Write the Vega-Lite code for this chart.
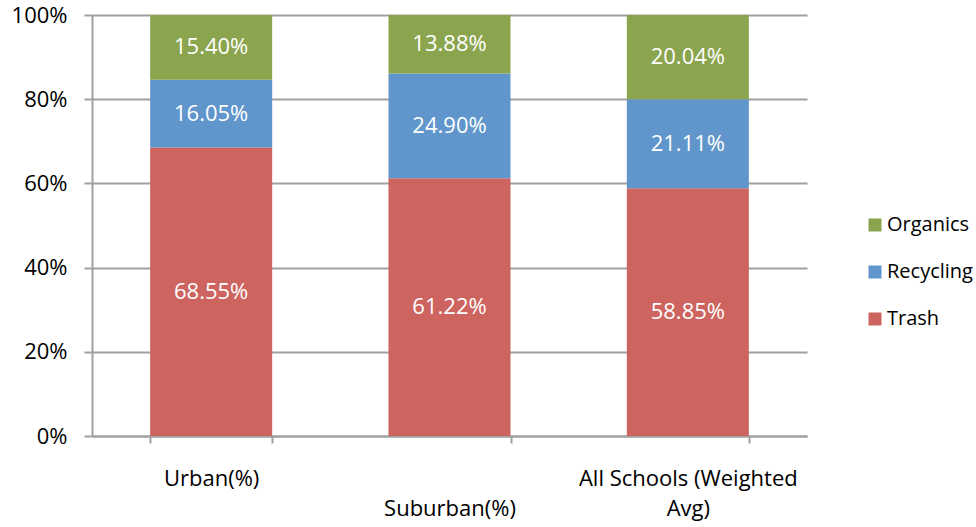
{
  "$schema": "https://vega.github.io/schema/vega-lite/v6.json",
  "width": 715,
  "height": 421,
  "autosize": {"type": "none"},
  "padding": {"left": 92, "top": 15, "right": 169, "bottom": 91},
  "background": "white",
  "config": {
    "view": {"stroke": null},
    "font": "Open Sans"
  },
  "data": {
    "values": [
      {"category": "Urban(%)", "type": "Trash", "rank": 1, "value": 0.6855},
      {"category": "Urban(%)", "type": "Recycling", "rank": 2, "value": 0.1605},
      {"category": "Urban(%)", "type": "Organics", "rank": 3, "value": 0.1540},
      {"category": "Suburban(%)", "type": "Trash", "rank": 1, "value": 0.6122},
      {"category": "Suburban(%)", "type": "Recycling", "rank": 2, "value": 0.2490},
      {"category": "Suburban(%)", "type": "Organics", "rank": 3, "value": 0.1388},
      {"category": "All Schools (Weighted Avg)", "type": "Trash", "rank": 1, "value": 0.5885},
      {"category": "All Schools (Weighted Avg)", "type": "Recycling", "rank": 2, "value": 0.2111},
      {"category": "All Schools (Weighted Avg)", "type": "Organics", "rank": 3, "value": 0.2004}
    ]
  },
  "transform": [
    {"stack": "value", "groupby": ["category"], "sort": [{"field": "rank", "order": "ascending"}], "as": ["y0", "y1"]},
    {"calculate": "(datum.y0 + datum.y1) / 2", "as": "mid"}
  ],
  "encoding": {
    "x": {
      "field": "category",
      "type": "nominal",
      "sort": null,
      "title": null,
      "scale": {"paddingInner": 0.488, "paddingOuter": 0.244},
      "axis": {
        "tickBand": "extent",
        "domainColor": "#A0A0A0",
        "domainWidth": 2,
        "tickColor": "#A0A0A0",
        "tickWidth": 2,
        "tickSize": 7,
        "labelAngle": 0,
        "labelFontSize": 22,
        "labelColor": "#000000",
        "labelPadding": 25,
        "labelLineHeight": 30,
        "labelBaseline": "top",
        "labelLimit": 400,
        "labelOverlap": false,
        "labelExpr": "datum.value == 'Suburban(%)' ? [' ', 'Suburban(%)'] : datum.value == 'All Schools (Weighted Avg)' ? ['All Schools (Weighted', 'Avg)'] : datum.value"
      }
    }
  },
  "layer": [
    {
      "mark": {"type": "bar"},
      "encoding": {
        "y": {
          "field": "y0",
          "type": "quantitative",
          "scale": {"domain": [0, 1], "nice": false},
          "title": null,
          "axis": {
            "values": [0, 0.2, 0.4, 0.6, 0.8, 1],
            "format": "%",
            "grid": true,
            "gridColor": "#A0A0A0",
            "gridWidth": 2,
            "domainColor": "#A0A0A0",
            "domainWidth": 2,
            "tickColor": "#A0A0A0",
            "tickWidth": 2,
            "tickSize": 8,
            "labelFontSize": 22,
            "labelColor": "#000000",
            "labelPadding": 17
          }
        },
        "y2": {"field": "y1"},
        "color": {
          "field": "type",
          "type": "nominal",
          "scale": {
            "domain": ["Organics", "Recycling", "Trash"],
            "range": ["#8BA54F", "#6096CB", "#CD645F"]
          },
          "legend": {
            "title": null,
            "orient": "none",
            "legendX": 773,
            "legendY": 200,
            "padding": 0,
            "symbolType": "square",
            "symbolSize": 169,
            "symbolStrokeWidth": 0,
            "labelFontSize": 20,
            "labelColor": "#000000",
            "labelOffset": 2,
            "rowPadding": 27
          }
        }
      }
    },
    {
      "mark": {"type": "text", "color": "white", "fontSize": 22, "baseline": "middle", "align": "center"},
      "encoding": {
        "y": {"field": "mid", "type": "quantitative", "scale": {"domain": [0, 1], "nice": false}},
        "text": {"field": "value", "type": "quantitative", "format": ".2%"}
      }
    }
  ]
}
